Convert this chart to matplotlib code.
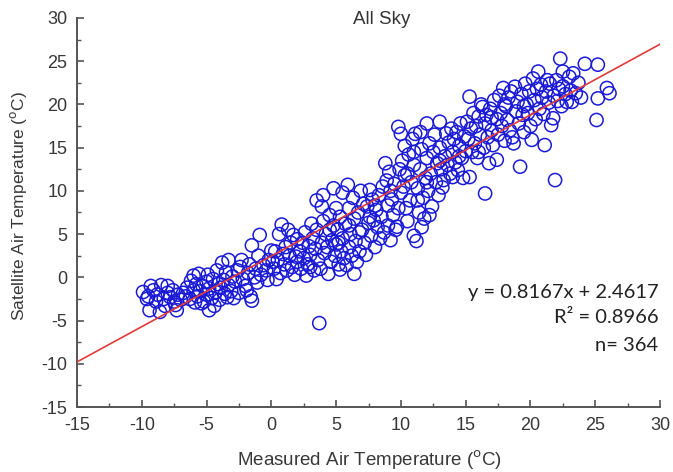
import numpy as np
from matplotlib import pyplot as plt
from matplotlib.ticker import MultipleLocator

plt.rcParams['font.family'] = ['Liberation Sans', 'DejaVu Sans']
plt.rcParams['axes.unicode_minus'] = False

# measured (x) vs satellite (y) air temperature
band_a = [(-9.9, -1.7), (-9.5, -2.2), (-9.3, -1.0), (-9.1, -1.5), (-8.8, -2.0), (-8.5, -0.9),
          (-9.4, -3.8), (-8.6, -4.0), (-8.9, -2.8), (-8.3, -2.5), (-8.0, -1.8), (-7.8, -2.3),
          (-7.5, -2.8), (-7.3, -3.8), (-7.6, -1.5), (-7.2, -2.0), (-7.0, -2.6), (-9.6, -2.5),
          (-8.2, -3.3), (-7.4, -3.2), (-8.0, -1.0), (-6.6, -2.2), (-5.4, -3.0), (-2.9, -2.4)]
band_b = [(-6.8, -1.8), (-6.5, -1.2), (-6.3, -2.5), (-6.0, 0.2), (-6.0, -1.5), (-5.8, -0.8),
          (-5.7, -2.2), (-5.5, -1.6), (-5.3, -1.0), (-5.2, -2.8), (-5.0, -2.0), (-5.0, -0.5),
          (-4.8, -1.3), (-4.8, -3.8), (-4.6, -2.4), (-4.5, -0.2), (-4.4, -3.3), (-4.3, -1.7),
          (-4.1, -0.8), (-4.0, -2.6), (-3.9, -1.2), (-3.8, 1.7), (-3.7, -0.3), (-3.6, -1.9),
          (-3.5, 0.6), (-3.3, 2.0), (-3.3, -0.9), (-3.1, -1.6), (-3.0, 0.1), (-6.2, -0.4),
          (-5.6, 0.4), (-4.2, 0.8), (-3.4, -2.3), (-5.9, -2.9), (-4.9, 0.3)]
band_c = [(-2.8, -0.5), (-2.6, 0.8), (-2.5, -1.8), (-2.3, 2.0), (-2.2, -0.2), (-2.0, -1.0),
          (-1.9, -1.5), (-1.8, 0.5), (-1.7, 1.5), (-1.6, -2.2), (-1.5, 3.7), (-1.5, -2.7),
          (-1.3, 0.0), (-1.2, 1.0), (-1.0, 2.5), (-0.9, 4.9), (-0.8, 0.3), (-0.6, 1.4),
          (-0.4, 0.8), (-0.3, -0.3), (-0.2, 2.0), (-2.4, 1.2), (-1.1, -0.6)]
band_d = [(0.2, 1.0), (0.3, 3.0), (0.5, 2.0), (0.6, 5.0), (0.7, 0.5), (0.8, 6.1), (1.0, 1.5),
          (1.1, 3.5), (1.2, 0.8), (1.4, 2.5), (1.5, 4.0), (1.6, 1.2), (1.7, 4.9), (1.8, 0.3),
          (2.0, 4.4), (2.0, 1.8), (2.2, 3.0), (2.3, 1.0), (2.5, 2.2), (2.6, 5.2), (2.8, 1.5),
          (2.9, 3.6), (3.0, 2.6), (3.1, 6.2), (3.2, 4.5), (3.3, 0.8), (3.4, 3.3), (3.5, 8.9),
          (3.5, 5.5), (3.6, 2.0), (3.7, -5.3), (3.8, 1.0), (3.9, 8.2), (3.9, 4.0), (4.0, 6.5),
          (4.1, 2.8), (4.2, 5.0), (4.3, 3.5), (4.4, 0.4), (4.5, 7.2), (4.6, 1.8), (4.7, 4.3),
          (4.8, 10.3), (4.8, 6.0), (4.9, 2.5), (5.0, 8.0), (5.0, 3.8), (0.0, 3.1), (0.4, -0.2),
          (2.7, 0.2), (1.3, 5.5), (4.0, 9.5), (0.1, 1.8), (0.9, 2.7), (1.9, 2.4), (2.4, 4.0),
          (3.0, 1.2), (4.5, 5.5)]
band_e = [(5.1, 5.5), (5.2, 1.5), (5.3, 7.0), (5.4, 3.0), (5.5, 9.8), (5.5, 4.5), (5.6, 2.2),
          (5.7, 6.2), (5.8, 1.4), (5.9, 10.7), (6.0, 8.0), (6.0, 3.5), (6.1, 5.0), (6.2, 2.5),
          (6.3, 9.2), (6.4, 6.8), (6.5, 4.2), (6.6, 1.8), (6.7, 7.5), (6.8, 3.0), (6.9, 10.0),
          (7.0, 5.5), (7.1, 8.5), (7.2, 4.0), (7.3, 2.6), (7.4, 8.2), (7.5, 6.3), (7.6, 10.1),
          (7.7, 4.8), (7.8, 9.0), (7.9, 6.6), (8.0, 3.5), (8.1, 7.8), (8.2, 5.8), (8.3, 9.5),
          (8.4, 4.5), (8.5, 7.0), (8.6, 10.5), (8.7, 5.2), (8.8, 13.2), (8.9, 11.2), (9.0, 8.3),
          (9.0, 6.0), (9.1, 12.2), (9.2, 4.3), (9.3, 9.0), (9.4, 7.2), (9.5, 10.8), (9.6, 5.5),
          (9.7, 5.85), (9.8, 17.4), (9.8, 8.0), (9.9, 12.5), (10.0, 16.6), (10.0, 9.8),
          (5.3, 0.9), (6.4, 0.4), (5.2, 4.0), (6.0, 6.0), (6.8, 5.2), (7.6, 7.0), (8.0, 8.3),
          (9.2, 10.0)]
band_f = [(10.1, 13.5), (10.2, 10.5), (10.3, 15.2), (10.4, 8.0), (10.5, 12.0), (10.6, 14.2),
          (10.7, 8.9), (10.8, 11.0), (10.9, 16.0), (11.0, 13.0), (11.0, 4.8), (11.1, 16.6),
          (11.2, 4.2), (11.3, 8.9), (11.3, 10.3), (11.4, 7.5), (11.5, 16.8), (11.5, 12.5),
          (11.6, 14.8), (11.7, 9.2), (11.8, 6.8), (11.9, 11.5), (12.0, 17.8), (12.0, 13.8),
          (12.1, 10.0), (12.2, 15.5), (12.3, 12.0), (12.4, 8.2), (12.5, 14.5), (12.6, 16.5),
          (12.7, 11.0), (12.8, 13.2), (12.9, 9.5), (13.0, 18.0), (13.0, 15.0), (13.1, 12.5),
          (13.2, 10.4), (13.3, 11.25), (13.4, 14.0), (13.5, 16.65), (13.6, 13.0), (13.7, 15.6),
          (13.8, 12.0), (13.9, 17.2), (14.0, 11.6), (14.0, 14.5), (14.1, 16.0), (14.2, 13.3),
          (14.3, 16.8), (14.4, 12.4), (14.5, 15.2), (14.6, 17.8), (14.7, 13.8), (14.8, 11.5),
          (14.9, 16.3), (15.0, 14.6), (11.6, 5.8), (10.5, 6.5), (12.2, 7.2), (10.3, 11.8),
          (11.0, 14.5), (12.0, 11.0), (13.0, 13.5), (14.5, 14.0)]
band_g = [(15.1, 18.0), (15.2, 16.0), (15.3, 20.9), (15.3, 11.6), (15.4, 17.2), (15.5, 14.5),
          (15.6, 19.0), (15.7, 15.5), (15.8, 17.5), (15.9, 13.8), (16.0, 18.6), (16.1, 16.5),
          (16.2, 20.0), (16.3, 19.7), (16.4, 15.0), (16.5, 9.7), (16.5, 17.8), (16.6, 18.8),
          (16.7, 16.2), (16.8, 13.2), (16.9, 19.5), (17.0, 17.0), (17.1, 15.3), (17.2, 20.5),
          (17.4, 13.6), (17.4, 18.3), (17.5, 16.5), (17.6, 21.0), (17.7, 19.0), (17.8, 17.5),
          (17.9, 21.9), (18.0, 15.8), (18.1, 19.8), (18.2, 18.2), (18.3, 20.8), (18.4, 17.0),
          (18.5, 21.5), (18.6, 16.2), (18.7, 15.5), (18.8, 22.05), (18.9, 19.2), (19.0, 20.3),
          (19.1, 17.8), (19.2, 12.8), (19.3, 21.2), (19.4, 18.8), (19.5, 16.8), (19.6, 22.4),
          (19.7, 20.0), (19.8, 19.0), (19.9, 21.5), (20.0, 17.5), (20.1, 15.9), (16.0, 14.5),
          (17.0, 18.5), (18.0, 20.0), (19.5, 19.8)]
band_h = [(20.2, 23.0), (20.3, 20.5), (20.4, 18.3), (20.5, 21.8), (20.6, 23.8), (20.7, 19.5),
          (20.8, 22.3), (20.9, 20.8), (21.0, 18.9), (21.1, 15.3), (21.2, 21.5), (21.3, 22.8),
          (21.4, 20.2), (21.5, 22.4), (21.6, 17.6), (21.75, 18.4), (21.8, 21.0), (21.9, 11.25),
          (22.0, 22.8), (22.1, 20.4), (22.2, 21.8), (22.3, 25.3), (22.4, 19.8), (22.5, 22.1),
          (22.5, 23.8), (22.7, 21.2), (22.8, 20.3), (23.0, 23.2), (23.1, 21.6), (23.2, 20.3),
          (23.3, 23.6), (23.5, 21.3), (23.7, 22.5), (23.9, 20.8), (24.2, 24.7), (25.1, 18.2),
          (25.2, 20.7), (25.2, 24.6), (25.9, 21.9), (26.1, 21.3)]

slope = 0.8167
intercept = 2.4617
r2 = 0.8966

pts = np.array(band_a + band_b + band_c + band_d + band_e + band_f + band_g + band_h)
x = pts[:, 0]
y = pts[:, 1]
n = len(pts)

fig = plt.figure(figsize=(6.73, 4.72), dpi=100)
ax = fig.add_axes([0.1144, 0.1377, 0.8663, 0.8242])

ax.scatter(x, y, s=90, facecolors='none', edgecolors='#1a1ad6', linewidths=1.1, zorder=2)

xl = np.array([-15, 30])
ax.plot(xl, slope * xl + intercept, color='#e03a3a', lw=1.2, zorder=3)

ax.set_xlim(-15, 30)
ax.set_ylim(-15, 30)
ax.xaxis.set_major_locator(MultipleLocator(5))
ax.yaxis.set_major_locator(MultipleLocator(5))
ax.xaxis.set_minor_locator(MultipleLocator(2.5))
ax.yaxis.set_minor_locator(MultipleLocator(2.5))

for s in ['top', 'right']:
    ax.spines[s].set_visible(False)
for s in ['left', 'bottom']:
    ax.spines[s].set_color('#555555')
    ax.spines[s].set_linewidth(1.4)
ax.tick_params(which='major', direction='in', length=5, width=1.2, color='#555555',
               labelsize=13, labelcolor='#383838', pad=7)
ax.tick_params(which='minor', direction='in', length=3, width=1.0, color='#555555')

ax.set_xlabel('Measured Air Temperature ($^{\\mathrm{o}}$C)', fontsize=13.5, color='#383838')
ax.set_ylabel('Satellite Air Temperature ($^{\\mathrm{o}}$C)', fontsize=12.5, color='#383838')
ax.xaxis.set_label_coords(0.501, -0.108)
ax.yaxis.set_label_coords(-0.083, 0.517)

ax.text(8.5, 29.8, 'All Sky', ha='center', va='center', fontsize=13.5, color='#333333')

stat_lines = ['y = %.4fx + %.4f' % (slope, intercept), 'R² = %.4f' % r2, 'n= %d' % n]
stat_y = [-1.7, -4.7, -7.9]
for txt, ty in zip(stat_lines, stat_y):
    ax.text(29.9, ty, txt, ha='right', va='center', fontsize=14.5, family='Lato', color='#222222')

fig.savefig('out.png', dpi=100)
